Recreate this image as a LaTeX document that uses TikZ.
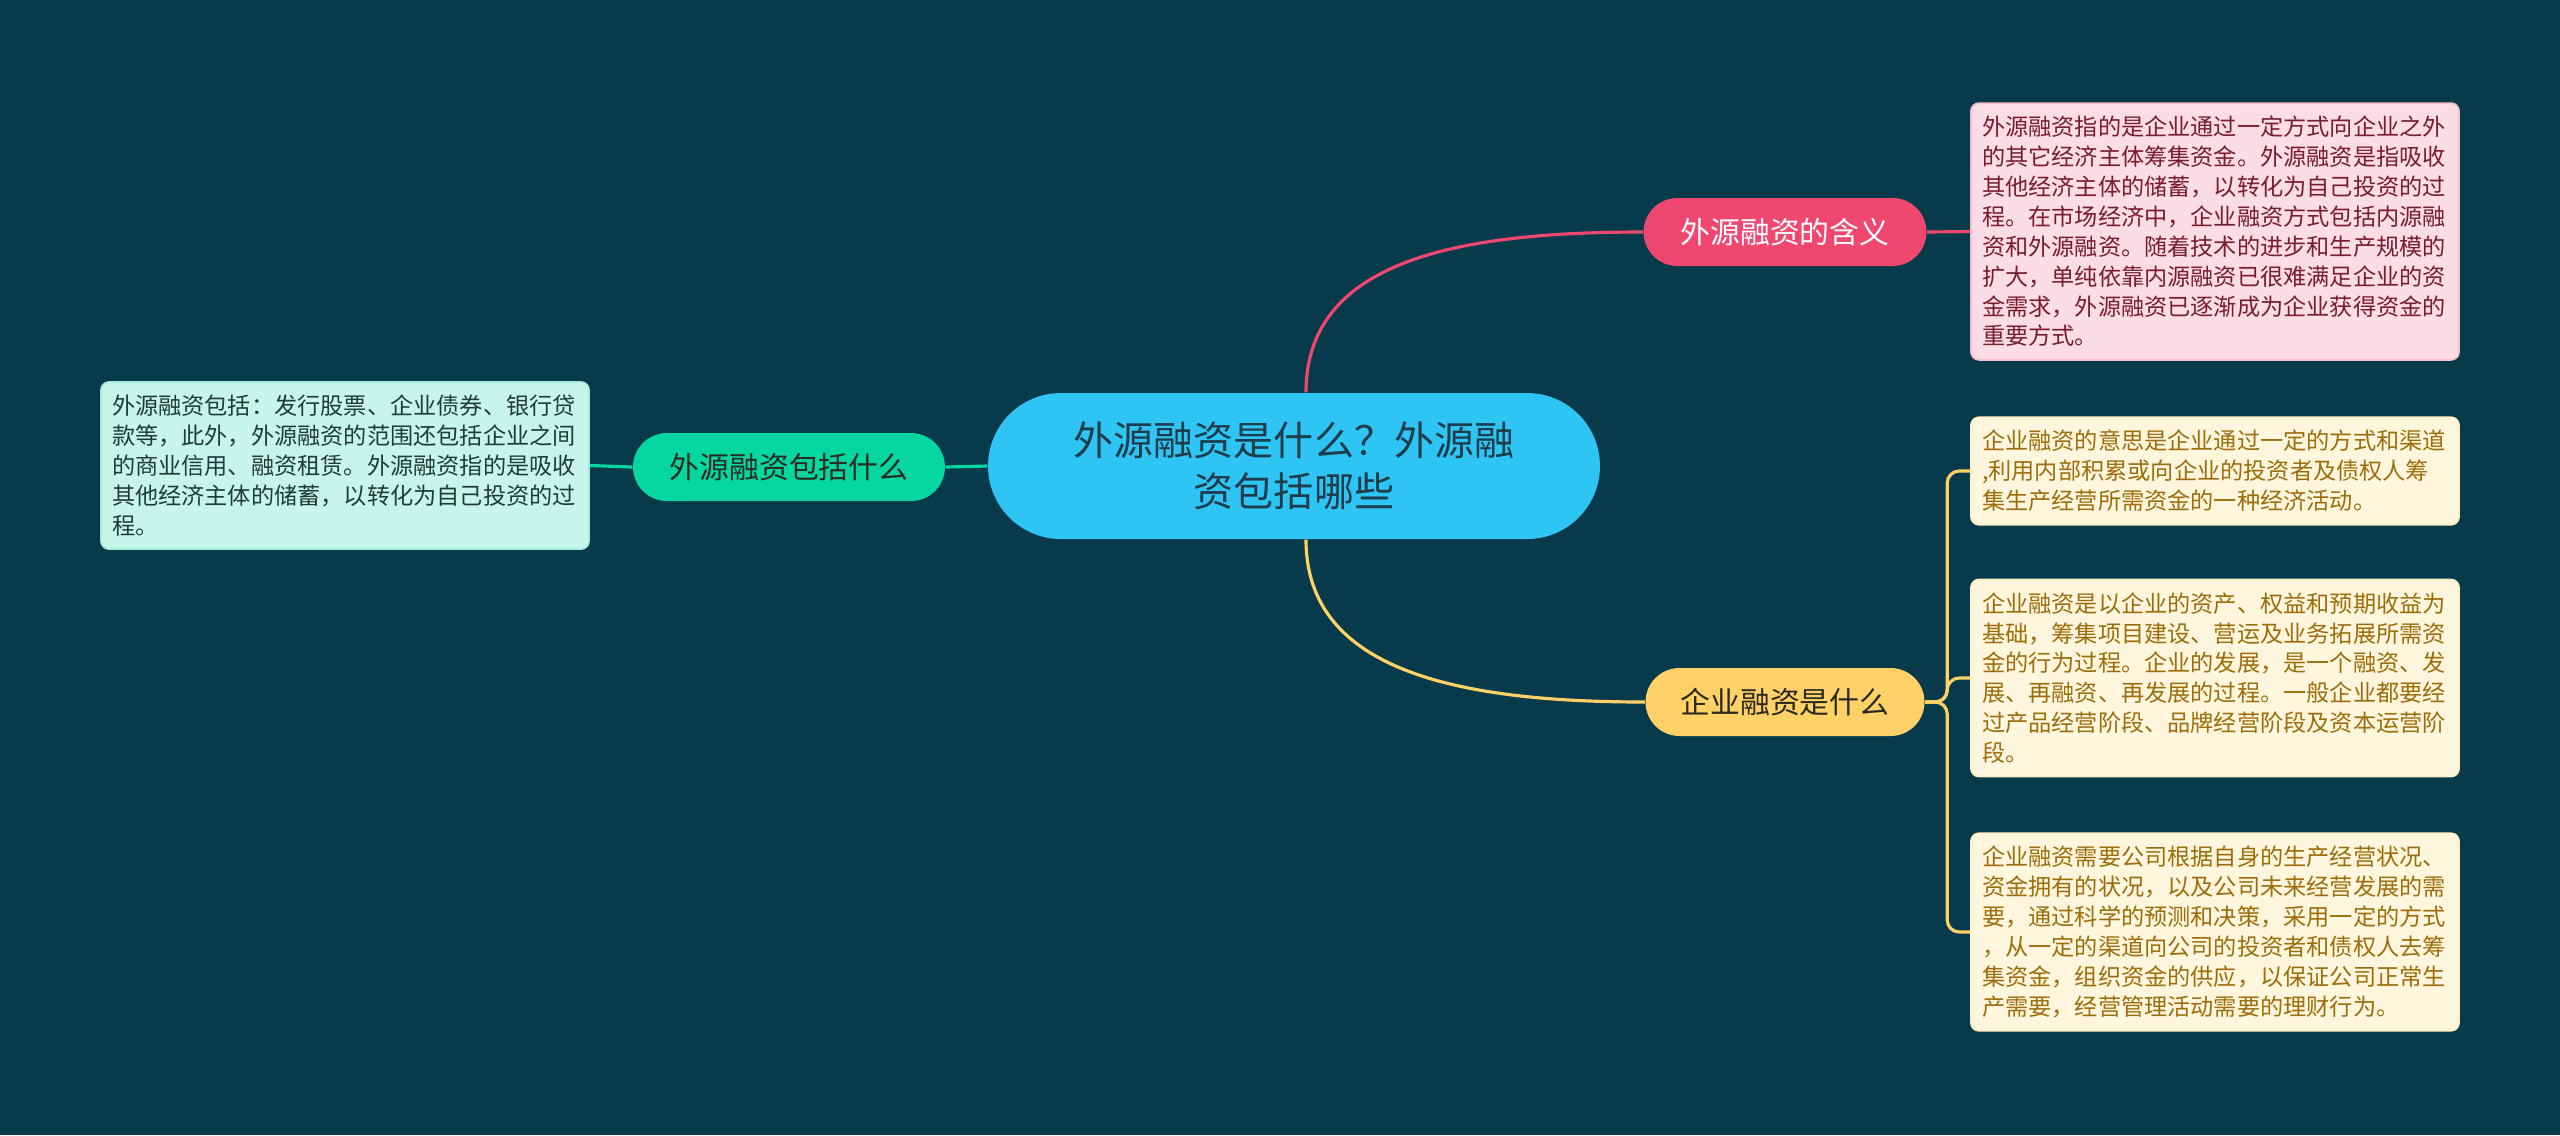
\documentclass[tikz,border=0pt]{standalone}
\usepackage{fontspec}
\setmainfont{Noto Sans CJK SC}
\usetikzlibrary{positioning}

\definecolor{bgteal}{HTML}{073B4C}
\definecolor{cenblue}{HTML}{2EC4F3}
\definecolor{centext}{HTML}{1D3C4C}
\definecolor{pinkline}{HTML}{EF476F}
\definecolor{pinkbox}{HTML}{FDDDE5}
\definecolor{pinktext}{HTML}{781B33}
\definecolor{greenline}{HTML}{06D6A0}
\definecolor{greenbox}{HTML}{C8F5EA}
\definecolor{greentext}{HTML}{1F3B3B}
\definecolor{yellowline}{HTML}{FFD166}
\definecolor{yellowbox}{HTML}{FFF6DD}
\definecolor{yellowtext}{HTML}{9C6D0A}
\definecolor{darktext}{HTML}{2A2A22}

\begin{document}
\begin{tikzpicture}[x=0.1mm,y=-0.1mm,
    topic/.style={rounded corners=7.3mm, minimum width=61.2mm, minimum height=14.6mm,
      fill=cenblue, text=centext, align=center, font=\fontsize{11.4}{14.4}\selectfont},
    branch/.style={rounded corners=3.4mm, minimum height=6.8mm, inner xsep=0pt,
      font=\fontsize{8.5}{10}\selectfont},
    note/.style={rounded corners=0.8mm, text width=46.6mm, inner xsep=1.1mm, inner ysep=1.3mm,
      align=left, line width=0.5pt, font=\fontsize{6.6}{8.5}\selectfont},
    link/.style={line width=0.9pt}]

        % Background
        \fill[bgteal] (0,0) rectangle (2560,1135);
        \useasboundingbox (0,0) rectangle (2560,1135);

        % Topic
        \node[topic] (cen) at (1294,466) {外源融资是什么？外源融\\资包括哪些};

        % Branches
        \node[branch, fill=pinkline, text=white, minimum width=28.3mm] (pk) at (1785,232) {外源融资的含义};
        \node[branch, fill=greenline, text=darktext, minimum width=31.2mm] (gn) at (789,467) {外源融资包括什么};
        \node[branch, fill=yellowline, text=darktext, minimum width=27.9mm] (yl) at (1785,702) {企业融资是什么};

        % Notes
        \node[note, fill=pinkbox, draw=pinkbox!80!pinkline, text=pinktext] (pbox) at (2215,231.5) {外源融资指的是企业通过一定方式向企业之外\\
        的其它经济主体筹集资金。外源融资是指吸收\\
        其他经济主体的储蓄，以转化为自己投资的过\\
        程。在市场经济中，企业融资方式包括内源融\\
        资和外源融资。随着技术的进步和生产规模的\\
        扩大，单纯依靠内源融资已很难满足企业的资\\
        金需求，外源融资已逐渐成为企业获得资金的\\
        重要方式。};
        \node[note, fill=greenbox, draw=greenbox!80!greenline, text=greentext] (gbox) at (345,465.5) {外源融资包括：发行股票、企业债券、银行贷\\
        款等，此外，外源融资的范围还包括企业之间\\
        的商业信用、融资租赁。外源融资指的是吸收\\
        其他经济主体的储蓄，以转化为自己投资的过\\
        程。};
        \node[note, fill=yellowbox, draw=yellowbox!80!yellowline, text=yellowtext] (yb1) at (2215,471) {企业融资的意思是企业通过一定的方式和渠道\\
        ,利用内部积累或向企业的投资者及债权人筹\\
        集生产经营所需资金的一种经济活动。};
        \node[note, fill=yellowbox, draw=yellowbox!80!yellowline, text=yellowtext] (yb2) at (2215,678) {企业融资是以企业的资产、权益和预期收益为\\
        基础，筹集项目建设、营运及业务拓展所需资\\
        金的行为过程。企业的发展，是一个融资、发\\
        展、再融资、再发展的过程。一般企业都要经\\
        过产品经营阶段、品牌经营阶段及资本运营阶\\
        段。};
        \node[note, fill=yellowbox, draw=yellowbox!80!yellowline, text=yellowtext] (yb3) at (2215,932) {企业融资需要公司根据自身的生产经营状况、\\
        资金拥有的状况，以及公司未来经营发展的需\\
        要，通过科学的预测和决策，采用一定的方式\\
        ，从一定的渠道向公司的投资者和债权人去筹\\
        集资金，组织资金的供应，以保证公司正常生\\
        产需要，经营管理活动需要的理财行为。};

        % Connectors
        \draw[link, pinkline] ([xshift=1.2mm]cen.north) .. controls +(0,-130) and +(-190,0) .. (pk.west);
        \draw[link, pinkline] (pk.east) -- (pbox.west);
        \draw[link, greenline] (cen.west) -- (gn.east);
        \draw[link, greenline] (gn.west) -- (gbox.west -| gbox.east);
        \draw[link, yellowline] ([xshift=1.2mm]cen.south) .. controls +(0,130) and +(-190,0) .. (yl.west);
        \foreach \b in {yb1,yb2,yb3}
          \draw[link, yellowline, rounded corners=1.2mm] (yl.east) -- ++(22,0) |- (\b.west);
      \end{tikzpicture}
\end{document}
